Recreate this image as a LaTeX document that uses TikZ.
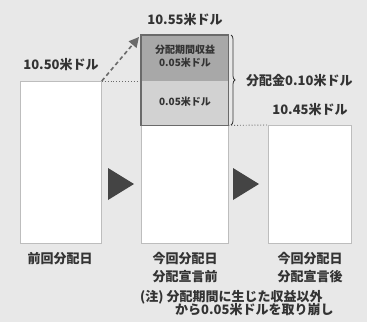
\documentclass[tikz,border=0pt]{standalone}
\usepackage{fontspec}
\setmainfont{Noto Sans CJK JP}
\usetikzlibrary{decorations.pathreplacing,arrows.meta}
\definecolor{bg}{HTML}{E8E8E8}
\definecolor{txt}{HTML}{333333}
\definecolor{shadeA}{HTML}{A8A8A8}
\definecolor{shadeB}{HTML}{D2D2D2}
\definecolor{frame}{HTML}{6A6A6A}
\definecolor{edge}{HTML}{BDBDBD}
\definecolor{tri}{HTML}{444444}
\tikzset{
  whitebox/.style={draw=edge, line width=0.8pt, fill=white, inner sep=0pt, anchor=north west},
  shadebox/.style={inner sep=0pt, anchor=north west},
  lbl/.style={text=txt, font=\fontsize{13}{15}\bfseries, inner sep=0pt},
  small/.style={text=txt, font=\fontsize{10}{12}\bfseries, inner sep=0pt},
  dotline/.style={draw=frame, dotted, line width=0.9pt},
}
\begin{document}
\begin{tikzpicture}[x=1pt,y=-1pt]
\fill[bg] (0,0) rectangle (367,322);
\useasboundingbox (0,0) rectangle (367,322);
% boxes
\node[whitebox, minimum width=81pt, minimum height=162pt] (b1) at (20,81) {};
\node[whitebox, minimum width=87pt, minimum height=118pt] (b2) at (141,125) {};
\node[whitebox, minimum width=83pt, minimum height=118pt] (b3) at (268,125) {};
\node[shadebox, fill=shadeA, minimum width=87pt, minimum height=46pt] (top) at (141,35) {};
\node[shadebox, fill=shadeB, minimum width=87pt, minimum height=44pt] (mid) at (141,81) {};
\draw[frame, line width=1.8pt] (top.north west) rectangle (mid.south east);
% dotted guides
\draw[dotline] (b1.north east) -- (mid.north west);
\draw[dotline] (mid.south east) -- (b3.north west);
% dashed arrow
\coordinate (tip) at (139,37);
\draw[frame, line width=1.6pt, dash pattern=on 4pt off 3pt, -{Triangle[length=10pt,width=10pt]}] (b1.north east) -- (tip);
% brace
\draw[txt, line width=0.8pt, decorate, decoration={brace, amplitude=4pt}] (231,35) -- (231,125) coordinate[pos=0.5] (bm);
% triangles
\fill[tri] (108,168) -- (134,184) -- (108,200) -- cycle;
\fill[tri] (233,168) -- (259,184) -- (233,200) -- cycle;
% labels
\node[lbl] (l1) at (61,65) {10.50米ドル};
\node[lbl] (l2) at (185,20) {10.55米ドル};
\node[lbl, anchor=west] (l3) at (246,81) {分配金0.10米ドル};
\node[lbl] (l4) at (310,110) {10.45米ドル};
\node[small] (s1) at (185,50) {分配期間収益};
\node[small] (s2) at (185,63) {0.05米ドル};
\node[small] (s3) at (185,102) {0.05米ドル};
\node[lbl] (c1) at (60,259) {前回分配日};
\node[lbl] (c2a) at (185,259) {今回分配日};
\node[lbl] (c2b) at (185,277) {分配宣言前};
\node[lbl] (c3a) at (310,259) {今回分配日};
\node[lbl] (c3b) at (310,277) {分配宣言後};
\node[lbl, anchor=west] (n1) at (140,297) {(注) 分配期間に生じた収益以外};
\node[lbl, anchor=west] (n2) at (175,309.5) {から0.05米ドルを取り崩し};
\end{tikzpicture}
\end{document}
